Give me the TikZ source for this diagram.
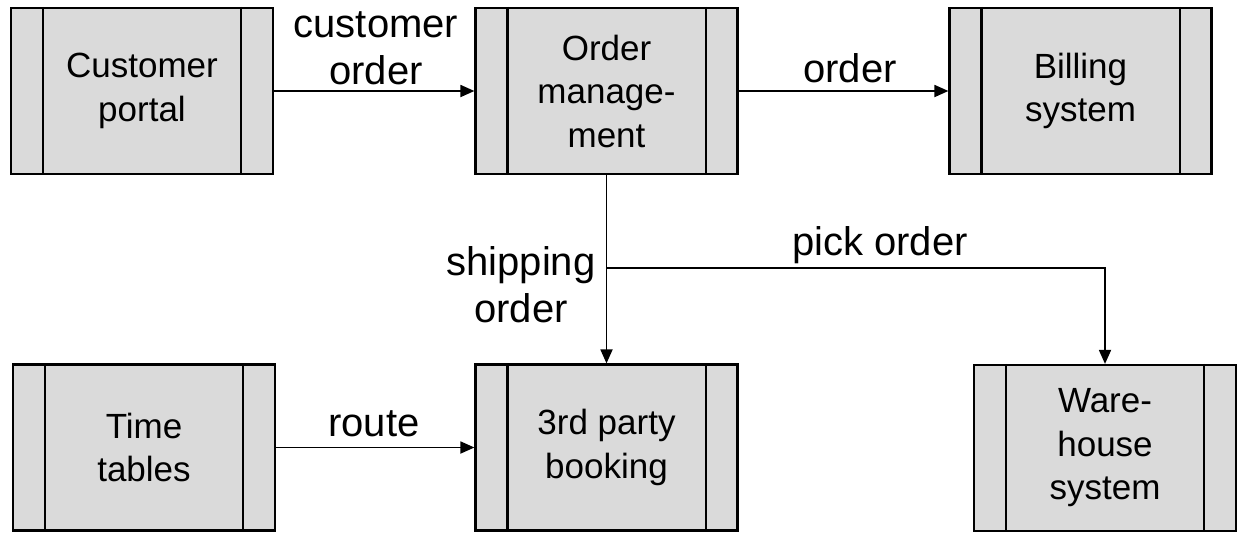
\documentclass[tikz,border=0pt]{standalone}
\usepackage{fontspec}
\setmainfont{Liberation Sans}
\usetikzlibrary{arrows.meta}
\begin{document}
\begin{tikzpicture}[x=1pt,y=-1pt,
  sysbox/.style={draw=black,fill=boxgray,line width=2.2pt,minimum width=262pt,minimum height=166pt,inner sep=0pt,align=center,font=\fontsize{35}{43.5}\selectfont},
  bar/.style={draw=black,line width=2.2pt},
  arr/.style={draw=black,line width=1.8pt,-{Triangle[length=14pt,width=12pt]}},
  lbl/.style={align=center,inner sep=0pt,font=\fontsize{40}{47}\selectfont}]
\definecolor{boxgray}{HTML}{DADADA}
\useasboundingbox (0,0) rectangle (1250,544);
\node[sysbox] (cp) at (142,91) {Customer\\portal};
\node[sysbox] (om) at (606.5,91) {Order\\manage-\\ment};
\node[sysbox] (bs) at (1080.5,91) {Billing\\system};
\node[sysbox] (tt) at (144,447.5) {Time\\tables};
\node[sysbox] (tp) at (606.5,447.5) {3rd party\\booking};
\node[sysbox] (wh) at (1105,448) {Ware-\\house\\system};
\foreach \n in {cp,om,bs,tt,tp,wh}{
  \draw[bar] ([xshift=33pt]\n.north west) -- ([xshift=33pt]\n.south west);
  \draw[bar] ([xshift=-33pt]\n.north east) -- ([xshift=-33pt]\n.south east);
}
\draw[arr] (cp.east) -- (om.west);
\draw[arr] (om.east) -- (bs.west);
\draw[arr] (om.south) -- (tp.north);
\coordinate (br) at (606.5,268);
\draw[arr] (br) -| (wh.north);
\draw[arr] (tt.east) -- (tp.west);
\node[lbl] (l1) at (376,48) {customer\\order};
\node[lbl] (l2) at (850,68) {order};
\node[lbl] (l3) at (521,285) {shipping\\order};
\node[lbl] (l4) at (880,245) {pick order};
\node[lbl] (l5) at (374,424) {route};
\end{tikzpicture}
\end{document}
